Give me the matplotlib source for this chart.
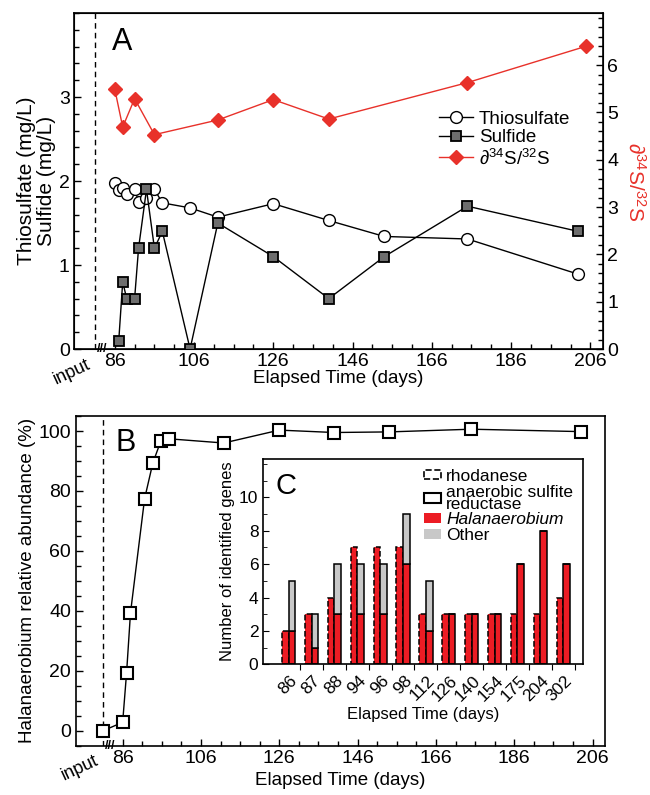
import matplotlib
matplotlib.use('Agg')
import matplotlib.pyplot as plt
import matplotlib.transforms as mtransforms
from matplotlib.patches import Patch
from matplotlib.lines import Line2D
import numpy as np

plt.rcParams['font.family'] = ['Liberation Sans', 'DejaVu Sans']
plt.rcParams['mathtext.fontset'] = 'custom'
plt.rcParams['mathtext.rm'] = 'Liberation Sans'
plt.rcParams['mathtext.it'] = 'Liberation Sans:italic'

#%% Data
# panel A
thioDays = [86, 87, 88, 89, 91, 92, 94, 96, 98, 105, 112, 126, 140, 154, 175, 203]
thio = [1.98, 1.89, 1.92, 1.85, 1.91, 1.75, 1.80, 1.90, 1.74, 1.68, 1.57, 1.73, 1.53, 1.34, 1.31, 0.89]
sulfDays = [87, 88, 89, 91, 92, 94, 96, 98, 105, 112, 126, 140, 154, 175, 203]
sulf = [0.1, 0.8, 0.6, 0.6, 1.2, 1.9, 1.2, 1.4, 0.0, 1.5, 1.1, 0.6, 1.1, 1.7, 1.4]
isoDays = [86, 88, 91, 96, 112, 126, 140, 175, 205]
iso = [5.49, 4.69, 5.29, 4.53, 4.84, 5.27, 4.86, 5.63, 6.40]

# panel B
inputDay = 81
abunDays = [81, 86, 87, 88, 91.6, 93.7, 95.7, 97.8, 111.8, 126, 140, 154, 175, 203]
abun = [0, 2.8, 19.3, 39.3, 77.4, 89.3, 96.5, 97.4, 96.0, 100.3, 99.5, 99.7, 100.6, 99.8]

# panel C
geneDays = ['86', '87', '88', '94', '96', '98', '112', '126', '140', '154', '175', '204', '302']
rhodHal = [2, 3, 4, 7, 7, 7, 3, 3, 3, 3, 3, 3, 4]
asrHal = [2, 1, 3, 3, 3, 6, 2, 3, 3, 3, 6, 8, 6]
asrOther = [3, 2, 3, 3, 3, 3, 3, 0, 0, 0, 0, 0, 0]

red = '#e8312a'
barRed = '#ec1c24'
grey = '#c8c8c8'

majTicks = [86, 106, 126, 146, 166, 186, 206]
minTicks = [d for d in range(91, 207, 5) if d not in majTicks]

fig = plt.figure(figsize=(6.5, 7.95), dpi=100)

#%% Panel A
axA = fig.add_axes([0.1138, 0.561, 0.8139, 0.4226])
axA2 = axA.twinx()

axA.axvline(inputDay, color='black', lw=1, ls=(0, (4, 3)))
axA.plot(thioDays, thio, '-o', color='black', lw=1, mfc='white', mec='black',
         ms=8.5, mew=1, zorder=3)
axA.plot(sulfDays, sulf, '-s', color='black', lw=1, mfc='#6e6e6e', mec='black',
         ms=7.5, mew=1.3, zorder=4)
axA2.plot(isoDays, iso, '-D', color=red, lw=1, mfc=red, mec=red, ms=7)

axA.set_xlim(75.7, 209.2)
axA.set_ylim(0, 4.0)
axA2.set_ylim(0, 7.1)
axA.set_xticks(majTicks)
axA.set_xticks(minTicks, minor=True)
axA.set_yticks([0, 1, 2, 3])
axA.set_yticks(np.arange(0, 4.01, 0.2), minor=True)
axA2.set_yticks(range(0, 7))
axA2.set_yticks(np.arange(0, 7.01, 0.2), minor=True)
for a in (axA, axA2):
    a.tick_params(which='both', direction='in', labelsize=14, width=1, pad=3)
    a.tick_params(which='major', length=5)
    a.tick_params(which='minor', length=3.5)
axA.tick_params(axis='x', which='both', pad=3)

axA.set_ylabel('Thiosulfate (mg/L)\nSulfide (mg/L)', fontsize=15, linespacing=1.1, labelpad=2)
axA.set_xlabel('Elapsed Time (days)', fontsize=13.5, labelpad=0)
axA2.set_ylabel('∂$^{34}$S/$^{32}$S', color=red, fontsize=15, rotation=270, labelpad=20)
for s in axA.spines.values():
    s.set_linewidth(1.2)

axA.text(inputDay - 0.4, -0.02, 'input', transform=mtransforms.blended_transform_factory(axA.transData, axA.transAxes),
         rotation=25, ha='right', va='top', fontsize=13)
axA.text(82.9, 0, '///', transform=mtransforms.blended_transform_factory(axA.transData, axA.transAxes),
         ha='center', va='center', fontsize=9, fontweight='bold', clip_on=False)
axA.text(0.091, 0.914, 'A', transform=axA.transAxes, fontsize=22, ha='center', va='center')

hA = [Line2D([], [], color='black', lw=1, marker='o', mfc='white', mec='black', ms=8.5),
      Line2D([], [], color='black', lw=1, marker='s', mfc='#6e6e6e', mec='black', ms=7.5, mew=1.3),
      Line2D([], [], color=red, lw=1, marker='D', ms=7)]
axA.legend(hA, ['Thiosulfate', 'Sulfide', '∂$^{34}$S/$^{32}$S'], loc='upper left',
           bbox_to_anchor=(430 / 650, 1 - 101 / 795), bbox_transform=fig.transFigure,
           frameon=False, fontsize=13.5, handlelength=1.8, handletextpad=0.3,
           labelspacing=0.1, borderpad=0)

#%% Panel B
axB = fig.add_axes([0.117, 0.062, 0.814, 0.4147])
axB.axvline(inputDay, color='black', lw=1, ls=(0, (4, 3)))
axB.plot(abunDays, abun, '-s', color='black', lw=1, mfc='white', mec='black',
         ms=9, mew=1.5, clip_on=False, zorder=3)
axB.set_xlim(74.1, 209.2)
axB.set_ylim(-5, 105)
axB.set_xticks(majTicks)
axB.set_xticks(minTicks, minor=True)
axB.set_yticks(range(0, 101, 20))
axB.set_yticks(range(-5, 106, 5), minor=True)
axB.tick_params(which='both', direction='in', labelsize=14, width=1, right=False, top=False)
axB.tick_params(which='major', length=5)
axB.tick_params(which='minor', length=3.5)
axB.tick_params(axis='x', which='both', pad=3)
axB.set_ylabel('Halanaerobium relative abundance (%)', fontsize=13.5, labelpad=2)
axB.set_xlabel('Elapsed Time (days)', fontsize=13.5, labelpad=4)
for s in axB.spines.values():
    s.set_linewidth(1.2)
axB.text(inputDay - 0.4, -0.02, 'input', transform=mtransforms.blended_transform_factory(axB.transData, axB.transAxes),
         rotation=25, ha='right', va='top', fontsize=13)
axB.text(82.7, 0, '///', transform=mtransforms.blended_transform_factory(axB.transData, axB.transAxes),
         ha='center', va='center', fontsize=9, fontweight='bold', clip_on=False)
axB.text(0.093, 0.918, 'B', transform=axB.transAxes, fontsize=22, ha='center', va='center')

#%% Panel C (inset)
axC = fig.add_axes([0.405, 0.1644, 0.4914, 0.2582], zorder=5)
x = np.arange(len(geneDays))
w = 0.29
axC.bar(x - w / 2, rhodHal, w, color=barRed, edgecolor='black', linestyle='--', lw=1.1)
axC.bar(x + w / 2, asrHal, w, color=barRed, edgecolor='black', lw=1.1)
axC.bar(x + w / 2, asrOther, w, bottom=asrHal, color=grey, edgecolor='black', lw=1.1)
axC.set_xlim(-1.11, 12.85)
axC.set_ylim(0, 12.3)
axC.set_xticks(x + 0.5)
axC.set_xticklabels(geneDays, rotation=45, ha='right')
offset = mtransforms.ScaledTranslation(-4 / 72, 0, fig.dpi_scale_trans)
for lab in axC.get_xticklabels():
    lab.set_transform(lab.get_transform() + offset)
axC.set_yticks(range(0, 11, 2))
axC.set_yticks(range(0, 13), minor=True)
axC.tick_params(axis='y', which='both', direction='in', labelsize=12.5)
axC.tick_params(axis='y', which='major', length=4.5)
axC.tick_params(axis='y', which='minor', length=3)
axC.tick_params(axis='x', direction='out', length=4, labelsize=12.5, pad=2)
axC.set_ylabel('Number of identified genes', fontsize=12, labelpad=3)
axC.set_xlabel('Elapsed Time (days)', fontsize=12, labelpad=2)
for s in axC.spines.values():
    s.set_linewidth(1.2)
axC.text(0.07, 0.87, 'C', transform=axC.transAxes, fontsize=21, ha='center', va='center')

hC = [Patch(facecolor='white', edgecolor='black', linestyle='--', lw=1.2),
      Patch(facecolor='white', edgecolor='black', lw=1.5),
      Patch(facecolor=barRed, edgecolor='none'),
      Patch(facecolor=grey, edgecolor='none')]
legC = axC.legend(hC, ['rhodanese', 'anaerobic sulfite\nreductase', 'Halanaerobium', 'Other'],
                  loc='upper left', bbox_to_anchor=(415 / 650, 1 - 460 / 795),
                  bbox_transform=fig.transFigure, frameon=False, fontsize=12.5,
                  handlelength=1.0, handleheight=0.5, handletextpad=0.3,
                  labelspacing=0.05, borderpad=0)
for t in legC.get_texts():
    t.set_linespacing(0.75)
legC.get_texts()[2].set_fontstyle('italic')

fig.savefig('out.png', dpi=100)
